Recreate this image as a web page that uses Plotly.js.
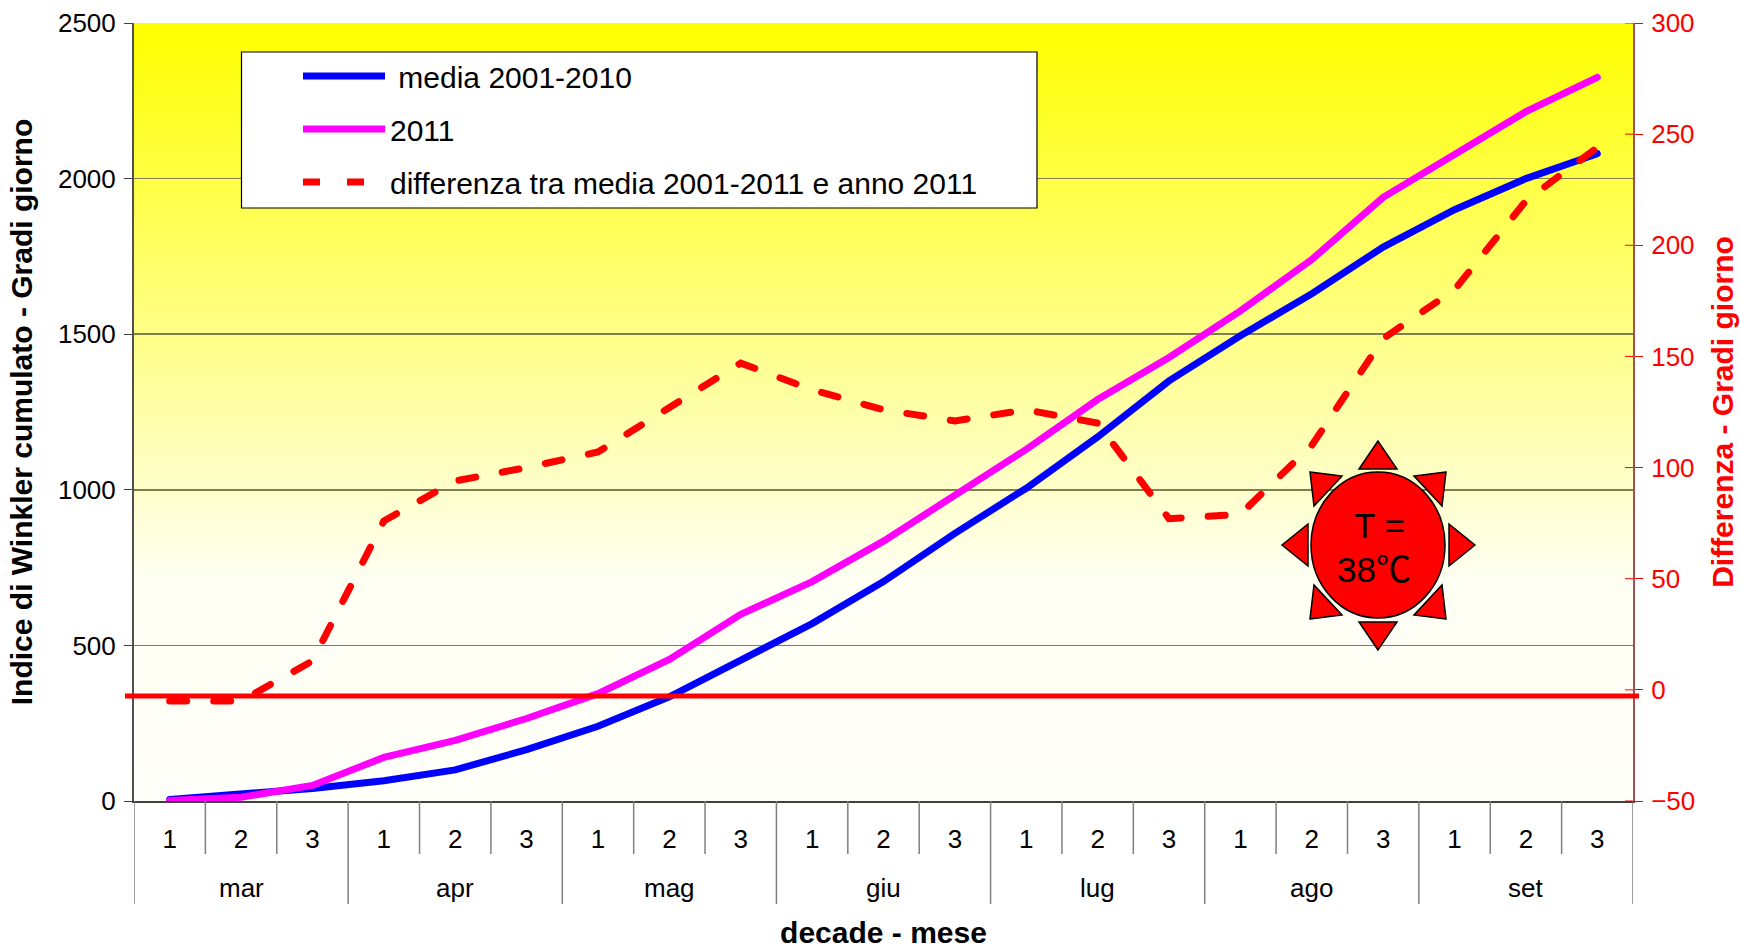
<!DOCTYPE html>
<html><head><meta charset="utf-8">
<script src="https://cdn.plot.ly/plotly-3.0.1.min.js"></script>
<style>
html,body{margin:0;padding:0;background:#fff}
#c{width:1740px;height:949px}
.scatterlayer .trace:nth-child(-n+2) .js-line{stroke-linecap:round !important}
</style></head><body><div id="c"></div>
<script>
const months=["mar","apr","mag","giu","lug","ago","set"];
const decades=["1","2","3"];
const media=[5,20,40,65,100,165,240,335,455,570,705,860,1005,1170,1350,1495,1630,1780,1900,2000,2080];
const anno2011=[2,12,50,140,195,265,345,455,600,705,835,980,1130,1290,1425,1575,1740,1940,2080,2215,2325];
const differenza=[-5,-5,13,76,94,100,107,127,147,135,126,121,126,120,77,79,110,158,180,220,244];
const seriesNames=["\u00a0media 2001-2010","2011","differenza tra media 2001-2011 e anno 2011"];
const y2Ticks=[-50,0,50,100,150,200,250,300];
const W=1740,H=949,L=134,R=1633,T=23,B=801;
const font="Liberation Sans, Arial, sans-serif";
const xs=media.map((_,i)=>i);
const px=x=>(x-L)/(R-L), py=y=>(B-y)/(B-T);
const xlabels=xs.map(i=>decades[i%3]);
const grad="data:image/svg+xml;utf8,"+encodeURIComponent('<svg xmlns="http://www.w3.org/2000/svg" width="10" height="100" preserveAspectRatio="none"><defs><linearGradient id="g" x1="0" y1="0" x2="0" y2="1"><stop offset="0" stop-color="#ffff00"/><stop offset="0.72" stop-color="#fffff4"/><stop offset="1" stop-color="#fffffa"/></linearGradient></defs><rect width="10" height="100" fill="url(#g)"/></svg>');
const traces=[
 {x:xs,y:media,name:seriesNames[0],legendgroup:"a",mode:"lines",line:{color:"#0000ff",width:7}},
 {x:xs,y:anno2011,name:seriesNames[1],legendgroup:"b",mode:"lines",line:{color:"#ff00ff",width:7}},
 {x:xs,y:differenza,name:seriesNames[2],legendgroup:"c",mode:"lines",yaxis:"y2",line:{color:"#ff0000",width:7,dash:"17px 27px"}}
];
const shapes=[];
const gray="#7f7f7f";
// category dividers
for(let i=0;i<=xs.length;i++){
  shapes.push({type:"line",xref:"x",yref:"paper",x0:i-0.5,x1:i-0.5,y0:0,y1:py(i%decades.length===0?904:854),line:{color:gray,width:1.5}});
}
// inner half of the right axis ticks
y2Ticks.forEach(v=>shapes.push({type:"line",xref:"paper",yref:"y2",x0:px(1625),x1:1,y0:v,y1:v,line:{color:"#ff0000",width:1},layer:"above"}));
// hand-drawn red line
shapes.push({type:"line",xref:"paper",yref:"paper",x0:px(125),x1:px(1639),y0:py(696),y1:py(696),line:{color:"#ff0000",width:5},layer:"above"});
// legend box
shapes.push({type:"rect",xref:"paper",yref:"paper",x0:px(241.5),x1:px(1037),y0:py(52),y1:py(208),fillcolor:"#ffffff",line:{color:"#000000",width:1.2},layer:"above"});
// sun
const sunStyle={fillcolor:"#ff0000",line:{color:"#000000",width:1.5},layer:"above",xref:"paper",yref:"paper"};
shapes.push(Object.assign({type:"circle",x0:px(1311),x1:px(1445),y0:py(618),y1:py(472)},sunStyle));
const tri=[[[1378,441],[1359,469],[1397,469]],[[1378,650],[1359,622],[1397,622]],
 [[1475,545],[1449,524],[1449,566]],[[1282,545],[1308,524],[1308,566]],
 [[1310,472],[1342,476],[1314,506]],[[1446,472],[1414,476],[1442,506]],
 [[1310,619],[1342,615],[1314,585]],[[1446,619],[1414,615],[1442,585]]];
tri.forEach(t=>shapes.push(Object.assign({type:"path",path:"M"+t.map(p=>px(p[0])+","+py(p[1])).join(" L")+" Z"},sunStyle)));
const annotations=months.map((m,i)=>({text:m,xref:"x",yref:"paper",x:i*3+1,y:py(888),xanchor:"center",yanchor:"middle",showarrow:false,font:{family:font,size:26,color:"#000"}}));
annotations.push({text:"T =",xref:"paper",yref:"paper",x:px(1379),y:py(525),xanchor:"center",yanchor:"middle",showarrow:false,font:{family:font,size:35,color:"#000"}});
annotations.push({text:"38℃",xref:"paper",yref:"paper",x:px(1374),y:py(569),xanchor:"center",yanchor:"middle",showarrow:false,font:{family:"Liberation Sans, Noto Sans CJK JP, sans-serif",size:35,color:"#000"}});
const layout={
 width:W,height:H,autosize:false,showlegend:true,
 paper_bgcolor:"#fff",plot_bgcolor:"rgba(0,0,0,0)",
 margin:{l:L,r:W-R,t:T,b:H-B,pad:0},
 font:{family:font,color:"#000",size:26},
 images:[{source:grad,xref:"paper",yref:"paper",x:0,y:1,sizex:1,sizey:1,sizing:"stretch",layer:"below",xanchor:"left",yanchor:"top"}],
 xaxis:{type:"linear",range:[-0.5,20.5],tickmode:"array",tickvals:xs,ticktext:xlabels,ticks:"",showgrid:false,zeroline:false,showline:true,linecolor:"#404040",linewidth:1.5,tickfont:{family:font,size:26},ticklabelstandoff:14,
   title:{text:"<b>decade - mese</b>",font:{family:font,size:30},standoff:74}},
 yaxis:{range:[0,2500],tickvals:[0,500,1000,1500,2000,2500],ticks:"outside",ticklen:8,tickcolor:"#404040",showgrid:true,gridcolor:"#7f7f50",gridwidth:1.5,zeroline:false,showline:true,linecolor:"#505050",linewidth:2,tickfont:{family:font,size:26},ticklabelstandoff:3,
   title:{text:"<b>Indice di Winkler cumulato - Gradi giorno</b>",font:{family:font,size:30},standoff:16}},
 yaxis2:{overlaying:"y",side:"right",range:[-50,300],tickvals:y2Ticks,ticks:"outside",ticklen:8,tickcolor:"#ff0000",showgrid:false,zeroline:false,showline:true,linecolor:"#a05050",linewidth:2,tickfont:{family:font,size:26,color:"#ff0000"},ticklabelstandoff:3,
   title:{text:"<b>Differenza - Gradi giorno</b>",font:{family:font,size:30,color:"#ff0000"},standoff:18}},
 legend:{x:px(298),y:py(50),xanchor:"left",yanchor:"top",bgcolor:"rgba(0,0,0,0)",borderwidth:0,font:{family:font,size:30,color:"#000"},itemwidth:82,tracegroupgap:11,traceorder:"grouped",entrywidth:640,entrywidthmode:"pixels",itemclick:false,itemdoubleclick:false},
 shapes,annotations
};
Plotly.newPlot("c",traces,layout,{displayModeBar:false,staticPlot:true});
</script></body></html>
